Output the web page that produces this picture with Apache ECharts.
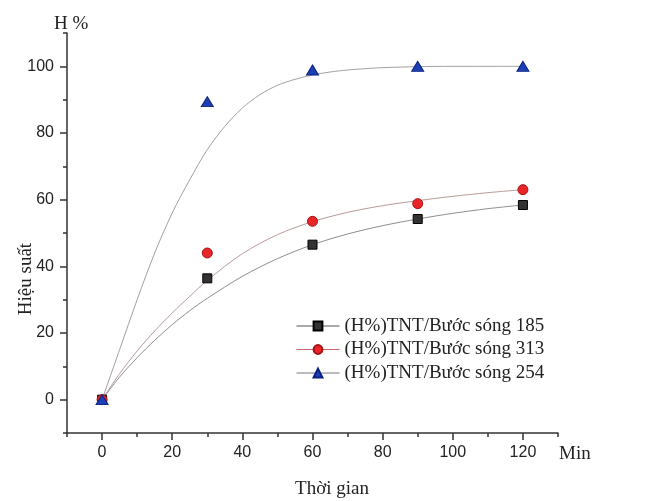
<!DOCTYPE html>
<html>
<head>
<meta charset="utf-8">
<script src="https://cdn.jsdelivr.net/npm/echarts@6/dist/echarts.min.js"></script>
<style>html,body{margin:0;padding:0;background:#fff}#c{width:648px;height:501px}</style>
</head>
<body>
<div id="c"></div>
<script>
// measured points
const timeX = [0, 30, 60, 90, 120];
const h185 = [0, 36.4, 46.5, 54.2, 58.4];
const h313 = [0, 44, 53.5, 58.8, 63];
const h254 = [0, 89.4, 98.9, 100, 100];
// fitted curves
const fitX = [0, 5, 10, 15, 20, 25, 30, 40, 50, 60, 70, 80, 90, 100, 110, 120];
const fit185 = [0, 6.8, 12.6, 17.8, 22.5, 26.7, 30.4, 37, 42.3, 46.5, 49.7, 52.2, 54.2, 55.9, 57.3, 58.4];
const fit313 = [0, 7.8, 14.6, 20.6, 26, 31, 35.8, 43.8, 49.5, 53.4, 56.2, 58.2, 59.7, 61, 62.1, 63];
const fit254X = [0, 5, 10, 15, 20, 25, 30, 35, 40, 45, 50, 55, 60, 65, 70, 75, 80, 90, 100, 110, 120];
const fit254 = [0, 15, 30, 44, 56, 66, 75, 82, 87.5, 91.5, 94.3, 96.1, 97.4, 98.3, 98.9, 99.3, 99.6, 99.9, 100, 100, 100];
// labels & ticks
const names = ['(H%)TNT/Bước sóng 185', '(H%)TNT/Bước sóng 313', '(H%)TNT/Bước sóng 254'];
const xMajor = [0, 20, 40, 60, 80, 100, 120];
const xMinor = [-10, 10, 30, 50, 70, 90, 110, 130];
const yMajor = [0, 20, 40, 60, 80, 100];
const yMinor = [-10, 10, 30, 50, 70, 90, 110];

const zip = (a, b) => a.map((v, i) => [v, b[i]]);
const serif = '"Liberation Serif", "Times New Roman", serif';
const sans = '"Liberation Sans", Arial, sans-serif';

const styles = [
  { symbol: 'rect', size: 9, fill: '#333333', border: '#000000', fitColor: '#8e8e8e', legendLine: '#555555' },
  { symbol: 'circle', size: 10, fill: '#e8262a', border: '#a81212', fitColor: '#b89a9a', legendLine: '#c86a6a' },
  { symbol: 'triangle', size: [12, 10], fill: '#1c3fb4', border: '#0b2080', fitColor: '#a3a0a3', legendLine: '#777788' }
];
const fits = [zip(fitX, fit185), zip(fitX, fit313), zip(fit254X, fit254)];
const pts = [zip(timeX, h185), zip(timeX, h313), zip(timeX, h254)];

const series = [];
names.forEach((n, i) => {
  const s = styles[i];
  series.push({
    type: 'line', name: n, data: fits[i], smooth: 0.3, showSymbol: false,
    symbol: s.symbol, symbolSize: s.size, z: 1, silent: true,
    lineStyle: { color: s.fitColor, width: 1 },
    itemStyle: { color: s.fill, borderColor: s.border, borderWidth: 1 }
  });
});
names.forEach((n, i) => {
  const s = styles[i];
  series.push({
    type: 'scatter', name: n, data: pts[i], symbol: s.symbol, symbolSize: s.size, z: 3 + i,
    itemStyle: { color: s.fill, borderColor: s.border, borderWidth: 1, opacity: 1 }
  });
});

const axisCommon = {
  type: 'value', splitLine: { show: false }
};

const chart = echarts.init(document.getElementById('c'), null, { renderer: 'canvas' });
chart.setOption({
  animation: false,
  backgroundColor: '#ffffff',
  grid: { left: 67, right: 90, top: 33, bottom: 68 },
  xAxis: [
    Object.assign({}, axisCommon, {
      min: -10, max: 130, position: 'bottom',
      axisLine: { show: true, onZero: false, lineStyle: { color: '#333', width: 1.5 } },
      axisTick: { show: true, length: 7, customValues: xMajor, lineStyle: { color: '#333', width: 1.5 } },
      axisLabel: { customValues: xMajor, color: '#222', fontSize: 16, fontFamily: sans, margin: 12 }
    }),
    Object.assign({}, axisCommon, {
      min: -10, max: 130, position: 'bottom',
      axisLine: { show: false, onZero: false },
      axisTick: { show: true, length: 4, customValues: xMinor, lineStyle: { color: '#333', width: 1.5 } },
      axisLabel: { show: false }
    })
  ],
  yAxis: [
    Object.assign({}, axisCommon, {
      min: -10, max: 110, position: 'left',
      axisLine: { show: true, onZero: false, lineStyle: { color: '#333', width: 1.5 } },
      axisTick: { show: true, length: 7, customValues: yMajor, lineStyle: { color: '#333', width: 1.5 } },
      axisLabel: { customValues: yMajor, color: '#222', fontSize: 16, fontFamily: sans, margin: 13 }
    }),
    Object.assign({}, axisCommon, {
      min: -10, max: 110, position: 'left',
      axisLine: { show: false, onZero: false },
      axisTick: { show: true, length: 4, customValues: yMinor, lineStyle: { color: '#333', width: 1.5 } },
      axisLabel: { show: false }
    })
  ],
  legend: {
    orient: 'vertical', left: 291, top: 311,
    itemWidth: 43, itemHeight: 11, itemGap: 3.5,
    textStyle: { fontFamily: serif, fontSize: 19, color: '#222', lineHeight: 20 },
    data: names.map((n, i) => ({ name: n, lineStyle: { color: styles[i].legendLine, width: 1 } })),
    selectedMode: false
  },
  graphic: [
    { type: 'text', x: 54, y: 24, style: { text: 'H %', font: '19px ' + serif, fill: '#222', align: 'left', verticalAlign: 'middle' } },
    { type: 'text', x: 559, y: 454, style: { text: 'Min', font: '19px ' + serif, fill: '#222', align: 'left', verticalAlign: 'middle' } },
    { type: 'text', x: 332, y: 489, style: { text: 'Thời gian', font: '19px ' + serif, fill: '#222', align: 'center', verticalAlign: 'middle' } },
    { type: 'text', x: 26, y: 279, rotation: Math.PI / 2, style: { text: 'Hiệu suất', font: '19px ' + serif, fill: '#222', align: 'center', verticalAlign: 'middle' } }
  ],
  series: series
});
</script>
</body>
</html>
